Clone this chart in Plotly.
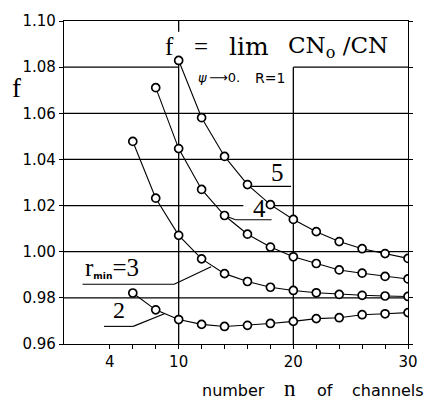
import plotly.graph_objects as go

# ---- data ----
n_r2 = [6, 8, 10, 12, 14, 16, 18, 20, 22, 24, 26, 28, 30]
f_r2 = [0.9821, 0.9748, 0.9706, 0.9685, 0.9676, 0.9681, 0.9689, 0.9698, 0.9710, 0.9714, 0.9727, 0.9731, 0.9736]

n_r3 = [6, 8, 10, 12, 14, 16, 18, 20, 22, 24, 26, 28, 30]
f_r3 = [1.0478, 1.0232, 1.0071, 0.9969, 0.9905, 0.9871, 0.9846, 0.9832, 0.9822, 0.9815, 0.9811, 0.9808, 0.9806]

n_r4 = [8, 10, 12, 14, 16, 18, 20, 22, 24, 26, 28, 30]
f_r4 = [1.0711, 1.0447, 1.0270, 1.0157, 1.0076, 1.0020, 0.9978, 0.9949, 0.9921, 0.9907, 0.9893, 0.9882]

n_r5 = [10, 12, 14, 16, 18, 20, 22, 24, 26, 28, 30]
f_r5 = [1.0829, 1.0581, 1.0413, 1.0291, 1.0204, 1.0140, 1.0087, 1.0044, 1.0013, 0.9992, 0.9971]

x_tickvals = [4, 10, 20, 30]
x_ticktext = ["4", "10", "20", "30"]
x_minor_ticks = [6, 8, 12, 14, 16, 18, 22, 24, 26, 28]
y_tickvals = [0.96, 0.98, 1.00, 1.02, 1.04, 1.06, 1.08, 1.10]

X_RANGE = [0, 30]
Y_RANGE = [0.96, 1.10]

W, H = 430, 402
ML, MR, MT, MB = 64, 13, 14, 58
PW, PH = W - ML - MR, H - MT - MB


def dx(px):
    return X_RANGE[0] + (px - ML) / PW * (X_RANGE[1] - X_RANGE[0])


def dy(py):
    return Y_RANGE[1] - (py - MT) / PH * (Y_RANGE[1] - Y_RANGE[0])


def paper_x(px):
    return (px - ML) / PW


def paper_y(py):
    return (H - MB - py) / PH


fig = go.Figure()

for xs, ys in [(n_r2, f_r2), (n_r3, f_r3), (n_r4, f_r4), (n_r5, f_r5)]:
    fig.add_trace(go.Scatter(
        x=xs, y=ys, mode="lines+markers",
        line=dict(color="black", width=1.1),
        marker=dict(symbol="circle", size=8, color="white",
                    line=dict(color="black", width=1.7)),
        showlegend=False, hoverinfo="skip",
    ))

shapes = []


def seg(x0, y0, x1, y1, w=1.3):
    shapes.append(dict(type="line", xref="x", yref="y", x0=x0, y0=y0, x1=x1, y1=y1,
                       line=dict(color="black", width=w), layer="below"))


# grid lines (partial, as in the reference)
seg(0, 1.08, 10, 1.08)
seg(20, 1.08, 30, 1.08)
for g in [1.06, 1.04, 1.00, 0.98]:
    seg(0, g, 30, g)
seg(0, 1.02, dx(248), 1.02)
seg(dx(278), 1.02, 30, 1.02)
seg(10, 0.96, 10, f_r5[0])
seg(10, 1.10, 10, dy(25))
seg(20, 0.96, 20, 1.08)

# leader lines for curve labels
seg(dx(256), dy(183), dx(297), dy(183), 1.1)                      # 5
seg(dx(232), dy(214), dx(240), dy(217), 1.1)                      # 4
seg(dx(240), dy(217), dx(277), dy(217), 1.1)
seg(dx(83), dy(283), dx(177), dy(283), 1.1)                       # r_min=3
seg(dx(177), dy(283), dx(215), dy(265), 1.1)
seg(dx(105), dy(326), dx(135), dy(326), 1.1)                      # 2
seg(dx(135), dy(326), dx(167), dy(313), 1.1)

SERIF = "Liberation Serif"
SANS = "DejaVu Sans"
ann = []


def txt(t, px, py, size, family=SERIF, xanchor="center", yanchor="middle"):
    ann.append(dict(text=t, x=paper_x(px), y=paper_y(py), xref="paper", yref="paper",
                    showarrow=False, xanchor=xanchor, yanchor=yanchor,
                    font=dict(family=family, size=size, color="black")))


# title formula
txt("f", 172, 40, 25)
txt("=", 205, 40, 25)
txt("lim", 254, 40, 25, family="DejaVu Serif")
txt("CN<sub>o</sub> /CN", 345, 41, 23, family="DejaVu Serif")
txt("<i>ψ</i>\u2009⟶0.", 199, 72, 13, family=SANS, xanchor="left")
txt("R=1", 258, 72, 14, family=SANS, xanchor="left")

# curve labels
txt("5", 283, 169, 25)
txt("4", 265, 206, 25)
txt("r<span style='font-family:DejaVu Sans;font-size:13px'><sub><b>min</b></sub></span>=3", 84, 266, 25, xanchor="left")
txt("2", 120, 309, 24)

# axis titles
txt("f", 15, 82, 27)
txt("number", 204, 391, 16, family=SANS, xanchor="left")
txt("n", 296, 389, 23, family=SERIF)
txt("of", 322, 391, 16, family=SANS, xanchor="left")
txt("channels", 357, 391, 16, family=SANS, xanchor="left")

fig.update_layout(
    width=W, height=H,
    margin=dict(l=ML, r=MR, t=MT, b=MB, pad=0),
    paper_bgcolor="white", plot_bgcolor="white",
    shapes=shapes, annotations=ann,
    xaxis=dict(range=X_RANGE, tickmode="array", tickvals=x_tickvals, ticktext=x_ticktext,
               ticks="outside", ticklen=4, tickwidth=1.2, tickcolor="black",
               minor=dict(tickmode="array", tickvals=x_minor_ticks, ticks="outside",
                          ticklen=4, tickwidth=1.2, tickcolor="black", showgrid=False),
               showline=True, linecolor="black", linewidth=1.3, mirror=True,
               showgrid=False, zeroline=False,
               tickfont=dict(family=SANS, size=15, color="black")),
    yaxis=dict(range=Y_RANGE, tickmode="array", tickvals=y_tickvals,
               ticktext=[f"{v:.2f}" for v in y_tickvals],
               ticks="outside", ticklen=4, tickwidth=1.2, tickcolor="black",
               showline=True, linecolor="black", linewidth=1.3, mirror="ticks",
               showgrid=False, zeroline=False,
               tickfont=dict(family=SANS, size=15, color="black")),
)

fig.write_html("out.html")
